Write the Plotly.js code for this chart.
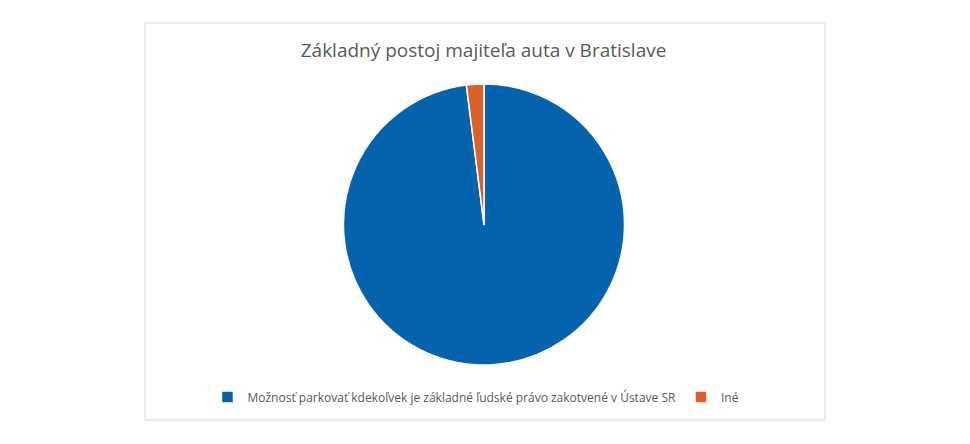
<!DOCTYPE html>
<html>
<head>
<meta charset="utf-8">
<script src="https://cdn.plot.ly/plotly-3.0.1.min.js"></script>
<style>
  html, body { margin: 0; padding: 0; background: #fff; }
  #chart { width: 970px; height: 444px; }
</style>
</head>
<body>
<div id="chart"></div>
<script>
const labels = ['Možnosť parkovať kdekoľvek je základné ľudské právo zakotvené v Ústave SR', 'Iné'];
const values = [98, 2];
const colors = ['#0563AE', '#DA6228'];

const data = [{
  type: 'pie',
  labels: labels,
  values: values,
  sort: false,
  direction: 'clockwise',
  rotation: 0,
  textinfo: 'none',
  hoverinfo: 'label+percent',
  marker: { colors: colors, line: { color: '#ffffff', width: 1.5 } },
  domain: { x: [0.3536, 0.6443], y: [0.178, 0.811] }
}];

const layout = {
  width: 970,
  height: 444,
  margin: { l: 0, r: 0, t: 0, b: 0 },
  paper_bgcolor: '#ffffff',
  font: { family: 'Open Sans, sans-serif', color: '#595959' },
  title: {
    text: 'Základný postoj majiteľa auta v Bratislave',
    x: 0.4985, xanchor: 'center',
    y: 0.887, yanchor: 'middle',
    font: { size: 19, color: '#595959', family: 'Open Sans, sans-serif' }
  },
  showlegend: true,
  legend: {
    orientation: 'h',
    x: 0.4907, xanchor: 'center',
    y: 0.106, yanchor: 'middle',
    bgcolor: 'rgba(0,0,0,0)',
    font: { size: 12, color: '#595959' },
    itemwidth: 30
  },
  shapes: [{
    type: 'rect', xref: 'paper', yref: 'paper',
    x0: 145 / 970, x1: 825 / 970, y0: 1 - 420 / 444, y1: 1 - 23 / 444,
    line: { color: '#d9d9d9', width: 1 }
  }]
};

Plotly.newPlot('chart', data, layout, { displayModeBar: false, staticPlot: true });
</script>
</body>
</html>
